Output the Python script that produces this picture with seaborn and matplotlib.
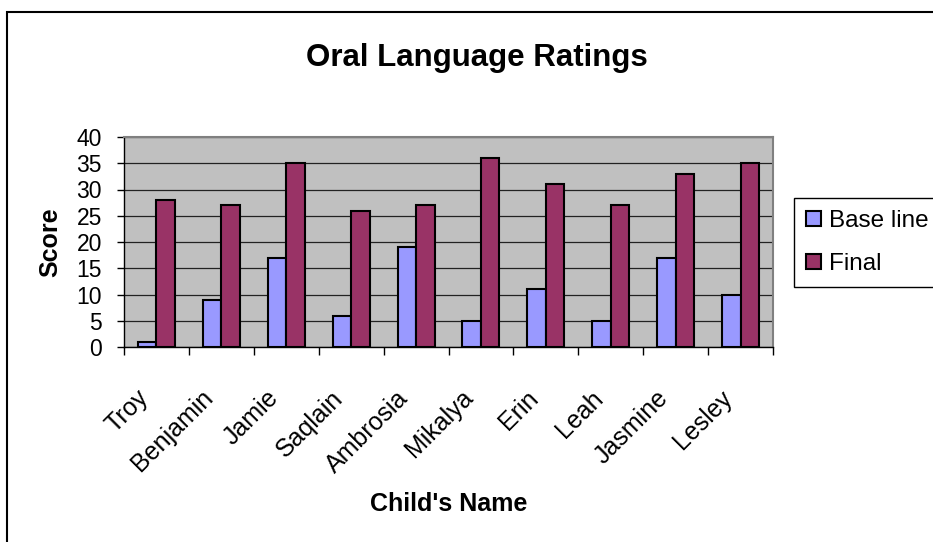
import matplotlib
matplotlib.use("Agg")
import matplotlib.pyplot as plt
import seaborn as sns
import pandas as pd
from matplotlib.patches import Rectangle

# chart data
names = ["Troy", "Benjamin", "Jamie", "Saqlain", "Ambrosia",
         "Mikalya", "Erin", "Leah", "Jasmine", "Lesley"]
base_line = [1, 9, 17, 6, 19, 5, 11, 5, 17, 10]
final = [28, 27, 35, 26, 27, 36, 31, 27, 33, 35]
series_names = ["Base line", "Final"]
y_ticks = [0, 5, 10, 15, 20, 25, 30, 35, 40]

df = pd.DataFrame({
    "name": names * 2,
    "score": base_line + final,
    "series": [series_names[0]] * len(names) + [series_names[1]] * len(names),
})

sns.set_style("white")
plt.rcParams["font.family"] = ["Liberation Sans", "DejaVu Sans"]
plt.rcParams["text.color"] = "black"
plt.rcParams["axes.labelcolor"] = "black"
plt.rcParams["xtick.color"] = "black"
plt.rcParams["ytick.color"] = "black"

W, H = 933, 542
fig = plt.figure(figsize=(W / 100, H / 100), dpi=100)
fig.patch.set_facecolor("white")

# plot area in pixel coordinates of the reference
left, right, top, bottom = 124, 773, 137, 347
ax = fig.add_axes([left / W, 1 - bottom / H, (right - left) / W, (bottom - top) / H])
ax.set_facecolor("#C0C0C0")

sns.barplot(data=df, x="name", y="score", hue="series",
            palette=["#9999FF", "#993366"], width=0.571,
            edgecolor="black", linewidth=1.5, saturation=1, ax=ax)

ax.set_xlim(-0.5, len(names) - 0.5)
ax.set_ylim(0, 40)
ax.set_yticks(y_ticks)
ax.set_yticklabels([str(v) for v in y_ticks], fontsize=16.5)
ax.tick_params(axis="y", direction="out", length=5, width=1, color="black",
               pad=11, left=True)

# grid
ax.yaxis.grid(True, color="#222222", linewidth=0.9)
ax.set_axisbelow(True)

# category boundary ticks and shifted name labels
ax.set_xticks([i - 0.5 for i in range(len(names) + 1)])
ax.set_xticklabels([])
ax.tick_params(axis="x", which="major", direction="out", length=6, width=1,
               color="black", bottom=True)
ax.set_xticks([i - 0.18 for i in range(len(names))], minor=True)
ax.set_xticklabels(names, minor=True, rotation=45, ha="right", va="center",
                   rotation_mode="anchor", fontsize=18)
ax.tick_params(axis="x", which="minor", length=0, pad=34)

for s in ["top", "right"]:
    ax.spines[s].set_color("#808080")
    ax.spines[s].set_linewidth(1.5)
for s in ["left", "bottom"]:
    ax.spines[s].set_color("black")
    ax.spines[s].set_linewidth(1)

ax.set_xlabel("Child's Name", fontsize=18, fontweight="bold", va="center")
ax.xaxis.set_label_coords(0.5, -(504 - bottom) / (bottom - top))
ax.set_ylabel("Score", fontsize=18, fontweight="bold", va="center")
ax.yaxis.set_label_coords((50.7 - left) / (right - left), 0.5)

fig.text(476.7 / W, 1 - 58 / H, "Oral Language Ratings", fontsize=22.5,
         fontweight="bold", ha="center", va="center")

# legend
handles, labels = ax.get_legend_handles_labels()
ax.legend(handles, labels, loc="upper left", mode="expand",
          bbox_to_anchor=(794 / W, 1 - 284 / H, 200 / W, (284 - 198) / H),
          bbox_transform=fig.transFigure, fontsize=17.5, frameon=True,
          fancybox=False, edgecolor="black", framealpha=1, borderaxespad=0,
          borderpad=0.5, handlelength=0.6, handleheight=0.6,
          handletextpad=0.35, labelspacing=0.85)
ax.get_legend().get_frame().set_linewidth(1)

# outer chart border
fig.patches.append(Rectangle((7 / W, -0.1), 1.1, 1 - 12 / H + 0.1,
                             transform=fig.transFigure, fill=False,
                             edgecolor="black", linewidth=1.5, zorder=10))

fig.savefig("out.png", dpi=100)
